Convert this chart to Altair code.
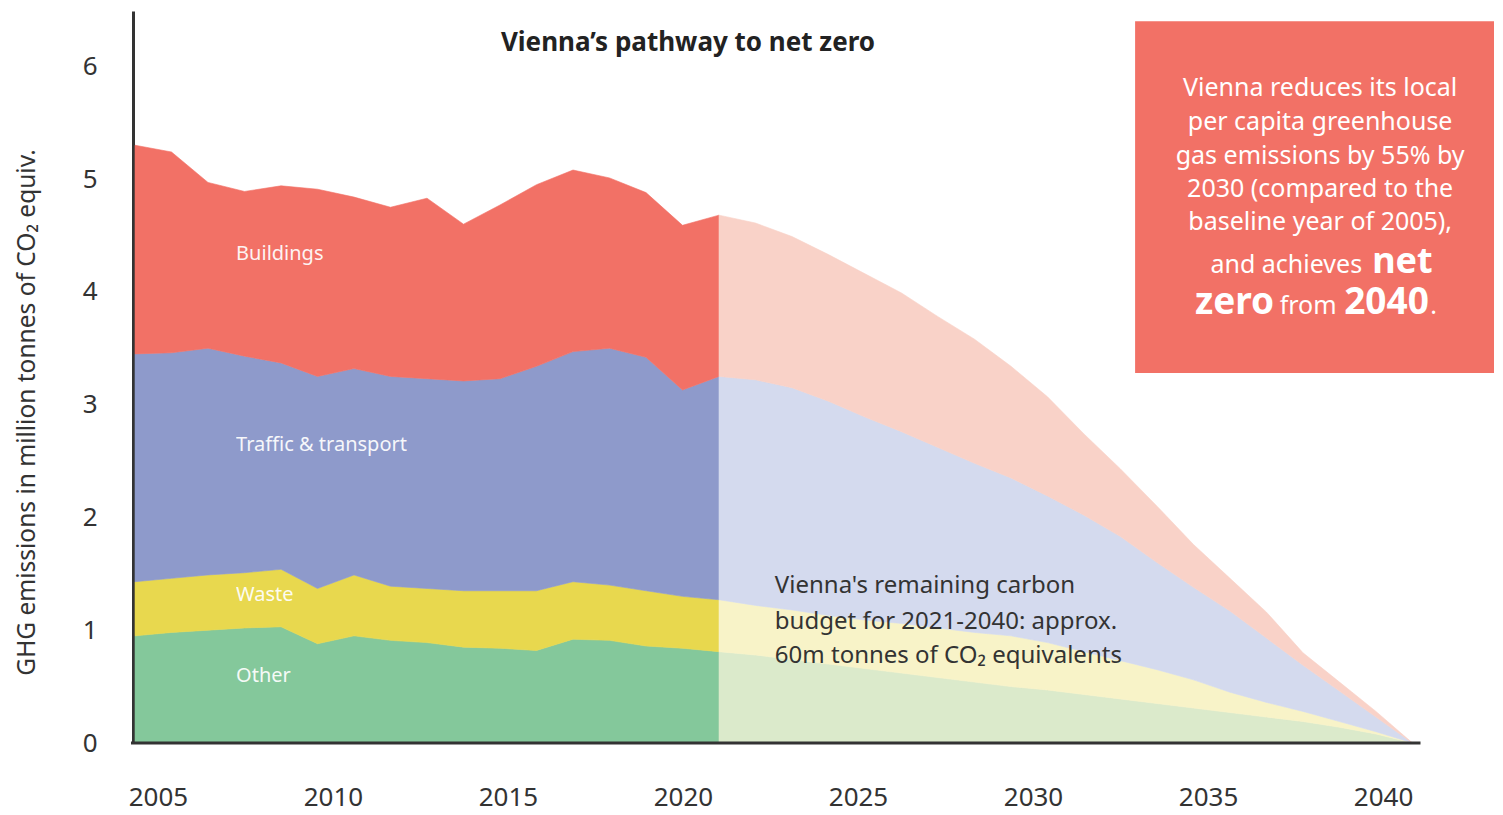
import altair as alt
import pandas as pd

FONT = "Noto Sans"

# ---------------- data ----------------
CATEGORIES = ["Other", "Waste", "Traffic & transport", "Buildings"]

HIST_YEARS = list(range(2005, 2022))
HIST_OTHER = [0.95, 0.98, 1.00, 1.02, 1.03, 0.88, 0.95, 0.91, 0.89, 0.85, 0.84, 0.82, 0.92, 0.91, 0.86, 0.84, 0.81]
HIST_WASTE = [0.48, 0.48, 0.49, 0.49, 0.51, 0.49, 0.54, 0.48, 0.48, 0.50, 0.51, 0.53, 0.51, 0.49, 0.49, 0.46, 0.46]
HIST_TRAFFIC = [2.02, 2.00, 2.01, 1.92, 1.83, 1.88, 1.83, 1.86, 1.86, 1.86, 1.88, 1.99, 2.04, 2.10, 2.07, 1.83, 1.98]
HIST_BUILDINGS = [1.85, 1.78, 1.47, 1.46, 1.57, 1.66, 1.52, 1.50, 1.60, 1.39, 1.54, 1.61, 1.61, 1.51, 1.46, 1.46, 1.43]

PROJ_YEARS = list(range(2021, 2041))
PROJ_OTHER = [0.81, 0.78, 0.74, 0.70, 0.66, 0.62, 0.58, 0.54, 0.50, 0.47, 0.43, 0.39, 0.35, 0.31, 0.27, 0.23, 0.19, 0.14, 0.08, 0.0]
PROJ_WASTE = [0.46, 0.44, 0.44, 0.43, 0.43, 0.44, 0.44, 0.44, 0.45, 0.42, 0.38, 0.34, 0.30, 0.25, 0.18, 0.13, 0.09, 0.05, 0.02, 0.0]
PROJ_TRAFFIC = [1.98, 2.00, 1.97, 1.90, 1.80, 1.70, 1.60, 1.50, 1.40, 1.30, 1.21, 1.10, 0.95, 0.82, 0.72, 0.57, 0.41, 0.27, 0.13, 0.0]
PROJ_BUILDINGS = [1.43, 1.39, 1.34, 1.30, 1.27, 1.23, 1.16, 1.10, 0.99, 0.88, 0.72, 0.60, 0.50, 0.38, 0.29, 0.23, 0.11, 0.08, 0.05, 0.0]

Y_TICKS = [0, 1, 2, 3, 4, 5, 6]
X_TICK_LABELS = [2005, 2010, 2015, 2020, 2025, 2030, 2035, 2040]

TITLE = "Vienna\u2019s pathway to net zero"
Y_TITLE = "GHG emissions in million tonnes of CO\u2082 equiv."
NOTE_LINES = ["Vienna's remaining carbon",
              "budget for 2021-2040: approx.",
              "60m tonnes of CO\u2082 equivalents"]
BOX_LINES = ["Vienna reduces its local",
             "per capita greenhouse",
             "gas emissions by 55% by",
             "2030 (compared to the",
             "baseline year of 2005),"]

# ---------------- styles ----------------
HIST_COLORS = ["#84C89B", "#E8D84E", "#8E9ACB", "#F27166"]
PROJ_COLORS = ["#DBEACB", "#F8F3C8", "#D4DAEE", "#F9D2C8"]
BOX_COLOR = "#F27166"
TEXT_DARK = "#333333"

X_DOMAIN = [2004.945, 2042.233]
LABEL_DOMAIN = [2004.286, 2043.171]
Y_DOMAIN = [0, 6.49]

XS = alt.Scale(domain=X_DOMAIN, nice=False, zero=False)
YS = alt.Scale(domain=Y_DOMAIN, nice=False, zero=False)


def long_frame(years, series):
    rows = []
    for order, (cat, vals) in enumerate(zip(CATEGORIES, series)):
        for yr, v in zip(years, vals):
            rows.append({"year": yr, "category": cat, "value": v, "order": order})
    return pd.DataFrame(rows)


hist_df = long_frame(HIST_YEARS, [HIST_OTHER, HIST_WASTE, HIST_TRAFFIC, HIST_BUILDINGS])
proj_df = long_frame(PROJ_YEARS, [PROJ_OTHER, PROJ_WASTE, PROJ_TRAFFIC, PROJ_BUILDINGS])

y_axis = alt.Axis(values=Y_TICKS, title=Y_TITLE, grid=False, ticks=False, domain=True,
                  domainColor=TEXT_DARK, domainWidth=3, labelFont=FONT, labelFontSize=26,
                  labelColor=TEXT_DARK, labelPadding=36, titleFont=FONT, titleFontSize=24.5,
                  titleFontWeight="normal", titleColor=TEXT_DARK, titleAngle=270,
                  titleAlign="center", titleBaseline="middle", titleX=-106, titleY=401)

hist = alt.Chart(hist_df).mark_area(interpolate="linear", strokeWidth=0.6).encode(
    x=alt.X("year:Q", scale=XS, axis=None),
    y=alt.Y("value:Q", stack="zero", scale=YS, axis=y_axis),
    color=alt.Color("category:N", scale=alt.Scale(domain=CATEGORIES, range=HIST_COLORS), legend=None),
    stroke=alt.Stroke("category:N", scale=alt.Scale(domain=CATEGORIES, range=HIST_COLORS), legend=None),
    order=alt.Order("order:Q", sort="ascending"),
)

proj = alt.Chart(proj_df).mark_area(interpolate="linear", strokeWidth=0.6).encode(
    x=alt.X("year:Q", scale=XS, axis=None),
    y=alt.Y("value:Q", stack="zero", scale=YS, axis=None),
    color=alt.Color("category:N", scale=alt.Scale(domain=CATEGORIES, range=PROJ_COLORS), legend=None),
    stroke=alt.Stroke("category:N", scale=alt.Scale(domain=CATEGORIES, range=PROJ_COLORS), legend=None),
    order=alt.Order("order:Q", sort="ascending"),
)

# x baseline (axis line)
base_df = pd.DataFrame({"start": [HIST_YEARS[0]], "end": [PROJ_YEARS[-1]], "zero": [0]})
baseline = alt.Chart(base_df).mark_rule(color=TEXT_DARK, strokeWidth=3, xOffset=-4, x2Offset=8).encode(
    x=alt.X("start:Q", scale=XS, axis=None), x2="end:Q",
    y=alt.Y("zero:Q", scale=YS, axis=None),
)

# x tick labels on their own scale
tick_df = pd.DataFrame({"tick": X_TICK_LABELS})
ticks = alt.Chart(tick_df).mark_point(opacity=0).encode(
    x=alt.X("tick:Q", scale=alt.Scale(domain=LABEL_DOMAIN, nice=False, zero=False),
            axis=alt.Axis(values=X_TICK_LABELS, format="d", title=None, domain=False, ticks=False,
                          grid=False, labelFont=FONT, labelFontSize=26, labelColor=TEXT_DARK,
                          labelPadding=41, labelFlush=False, labelOverlap=False)),
    y=alt.value(0),
)

# title inside plot
title_df = pd.DataFrame({"x": [2020.15], "y": [6.206], "t": [TITLE]})
title = alt.Chart(title_df).mark_text(font=FONT, fontSize=26, fontWeight="bold", color="#222222",
                                      align="center", baseline="middle").encode(
    x=alt.X("x:Q", scale=XS, axis=None), y=alt.Y("y:Q", scale=YS, axis=None), text="t:N")

# category labels
lab_df = pd.DataFrame({"x": [2007.77] * 4,
                       "y": [0.594, 1.312, 2.642, 4.335],
                       "t": CATEGORIES})
labels = alt.Chart(lab_df).mark_text(font=FONT, fontSize=20, color="white", opacity=0.92,
                                     align="left", baseline="middle").encode(
    x=alt.X("x:Q", scale=XS, axis=None), y=alt.Y("y:Q", scale=YS, axis=None), text="t:N")

# budget note
note_df = pd.DataFrame({"x": [2022.53] * 3, "y": [1.392, 1.073, 0.771], "t": NOTE_LINES})
note = alt.Chart(note_df).mark_text(font=FONT, fontSize=24, color=TEXT_DARK,
                                    align="left", baseline="middle").encode(
    x=alt.X("x:Q", scale=XS, axis=None), y=alt.Y("y:Q", scale=YS, axis=None), text="t:N")

# red info box
box_df = pd.DataFrame({"x0": [2032.40], "x1": [X_DOMAIN[1]], "y0": [3.28], "y1": [6.40]})
box = alt.Chart(box_df).mark_rect(color=BOX_COLOR).encode(
    x=alt.X("x0:Q", scale=XS, axis=None), x2="x1:Q",
    y=alt.Y("y0:Q", scale=YS, axis=None), y2="y1:Q")

BOX_X = 2037.47
box_df1 = pd.DataFrame({"x": [BOX_X] * 5, "y": [5.736, 5.435, 5.133, 4.841, 4.548], "t": BOX_LINES})
box_text = alt.Chart(box_df1).mark_text(font=FONT, fontSize=25, color="white",
                                        align="center", baseline="alphabetic").encode(
    x=alt.X("x:Q", scale=XS, axis=None), y=alt.Y("y:Q", scale=YS, axis=None), text="t:N")


def box_piece(text, y, align, dx, size, weight):
    d = pd.DataFrame({"x": [BOX_X], "y": [y], "t": [text]})
    return alt.Chart(d).mark_text(font=FONT, fontSize=size, fontWeight=weight, color="white",
                                  align=align, baseline="alphabetic", dx=dx).encode(
        x=alt.X("x:Q", scale=XS, axis=None), y=alt.Y("y:Q", scale=YS, axis=None), text="t:N")


L6, L7 = 4.167, 3.804
pieces = [
    box_piece("and achieves", L6, "right", 42, 25, "normal"),
    box_piece("net", L6, "left", 52, 36, "bold"),
    box_piece("zero", L7, "right", -46, 37, "bold"),
    box_piece("from", L7, "center", -12, 25, "normal"),
    box_piece("2040", L7, "left", 24, 37, "bold"),
    box_piece(".", L7, "left", 110, 25, "normal"),
]

chart = alt.layer(hist, proj, baseline, ticks, title, labels, note, box, box_text, *pieces).resolve_scale(
    x="independent", color="independent", stroke="independent"
).resolve_axis(y="independent").properties(
    width=1361, height=732,
    padding={"left": 5, "top": 0, "right": 0, "bottom": 0},
).configure_view(stroke=None)

chart.save("out.html", embed_options={"renderer": "svg", "actions": False})
